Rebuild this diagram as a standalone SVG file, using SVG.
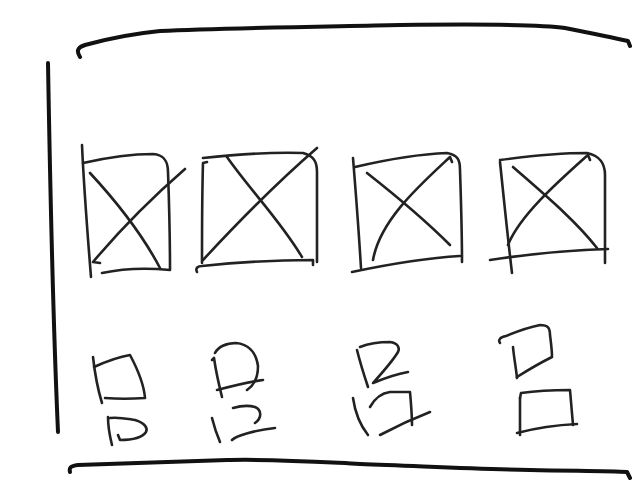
<svg xmlns="http://www.w3.org/2000/svg" width="632" height="486" viewBox="0 0 632 486">
<style>
.frame{fill:none;stroke:#111;stroke-width:4;stroke-linecap:round;stroke-linejoin:round}
.s{fill:none;stroke:#222;stroke-width:2.6;stroke-linecap:round;stroke-linejoin:round}
</style>
<rect width="632" height="486" fill="#fff"/>
<g id="frame">
<path class="frame" d="M48,63 C50,180 53,320 58,432"/>
<path class="frame" d="M80,57 C77,52 76,48 85,45 C110,38 130,34 160,31 C220,28 300,27 400,25 C480,24 540,24 565,28 C590,33 610,37 628,41 L630,46"/>
<path class="frame" d="M70,472 C69,468 70,466 78,465 C130,463 180,462 230,460 C280,459 320,462 360,464 C420,466 470,469 530,470 C580,471 610,471 627,472 L630,478"/>
</g>
<g id="image1">
<path class="s" d="M82,145 C84,190 88,240 91,277"/>
<path class="s" d="M83,163 C105,158 130,154 153,154 C165,155 168,162 168,172 C169,200 170,240 170,270 C150,268 125,268 102,273"/>
<path class="s" d="M90,173 C115,200 140,230 160,268"/>
<path class="s" d="M185,169 C155,195 120,230 93,262 L100,263"/>
</g>
<g id="image2">
<path class="s" d="M207,162 L203,163 C202,195 202,230 202,263"/>
<path class="s" d="M203,158 C230,155 270,152 303,153 C314,156 317,162 317,172 C317,200 317,235 317,262"/>
<path class="s" d="M197,272 C195,268 198,266 202,266 C240,262 280,260 313,260 L313,265"/>
<path class="s" d="M317,148 C280,180 240,220 203,260"/>
<path class="s" d="M227,157 C250,190 280,220 302,257"/>
</g>
<g id="image3">
<path class="s" d="M353,158 C356,195 359,235 361,268"/>
<path class="s" d="M355,167 C385,160 420,154 447,153 C458,155 460,160 460,170 C461,200 462,235 462,262"/>
<path class="s" d="M352,272 C390,264 425,258 460,256"/>
<path class="s" d="M367,173 C395,195 425,220 450,245"/>
<path class="s" d="M373,260 C380,220 420,185 450,157 L452,162"/>
</g>
<g id="image4">
<path class="s" d="M500,162 C504,200 508,240 512,273"/>
<path class="s" d="M500,160 C530,156 560,153 587,153 C600,156 605,163 605,175 C605,205 605,235 605,263"/>
<path class="s" d="M490,260 C530,254 570,250 608,249"/>
<path class="s" d="M513,167 C545,195 575,220 597,248"/>
<path class="s" d="M508,245 C520,215 560,180 588,155 L590,160"/>
</g>
<g id="label1">
<path class="s" d="M93,357 C95,375 98,390 102,403"/>
<path class="s" d="M94,367 C105,362 118,357 130,355 C138,370 144,385 145,398 C130,399 118,399 105,398"/>
<path class="s" d="M108,417 C108,427 110,437 112,445"/>
<path class="s" d="M110,418 C120,417 128,419 135,420 C145,423 148,428 146,432 C142,438 130,440 120,440 L118,435"/>
</g>
<g id="label2">
<path class="s" d="M212,360 L214,358 C216,372 219,385 222,397"/>
<path class="s" d="M215,353 C218,347 226,343 236,343 C248,344 256,352 258,366 C258,378 253,386 247,390"/>
<path class="s" d="M217,390 C232,386 248,382 263,380"/>
<path class="s" d="M212,418 C214,426 217,435 220,442"/>
<path class="s" d="M233,408 C240,406 248,405 255,407 C262,410 262,418 255,423"/>
<path class="s" d="M232,440 C236,436 255,430 275,428"/>
</g>
<g id="label3">
<path class="s" d="M357,350 C360,362 364,375 368,387"/>
<path class="s" d="M360,347 C370,343 380,342 390,342 C398,343 400,348 398,352 C392,362 382,373 373,383 C385,378 397,374 408,372"/>
<path class="s" d="M353,398 C355,412 360,425 368,435"/>
<path class="s" d="M370,407 C375,398 382,393 390,392 C397,392 404,392 410,392 C411,403 412,415 412,425"/>
<path class="s" d="M380,435 C395,427 412,419 430,412"/>
</g>
<g id="label4">
<path class="s" d="M500,343 C498,340 500,337 506,336 C518,331 530,327 540,325 C548,325 550,328 550,335 C551,343 552,350 552,357 C540,363 528,370 517,377"/>
<path class="s" d="M513,347 C514,358 516,368 517,378"/>
<path class="s" d="M520,398 L521,393 C535,391 555,390 570,390 C571,402 572,414 573,425"/>
<path class="s" d="M520,398 C520,410 520,422 520,435"/>
<path class="s" d="M517,433 C536,428 556,425 577,424"/>
</g>
</svg>
